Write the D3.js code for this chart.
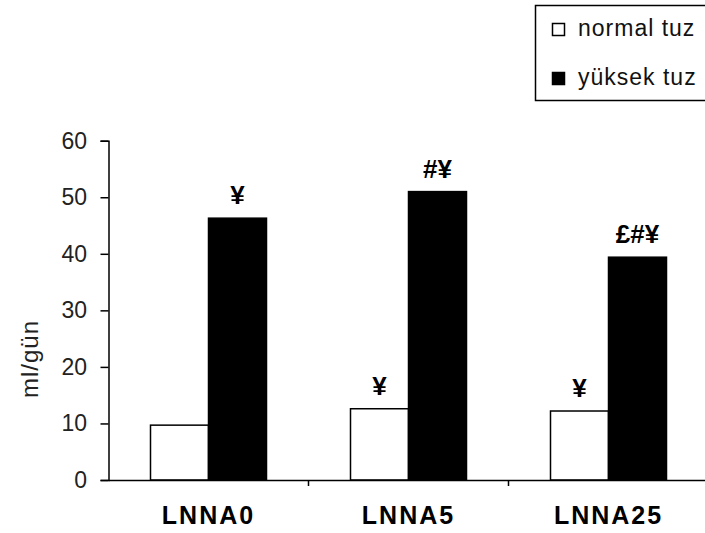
<!DOCTYPE html>
<html>
<head>
<meta charset="utf-8">
<script src="https://cdn.jsdelivr.net/npm/d3@7/dist/d3.min.js"></script>
<style>
  html, body { margin: 0; padding: 0; background: #fff; }
  svg { display: block; font-family: "Liberation Sans", Arial, sans-serif; }
</style>
</head>
<body>
<svg id="chart" width="705" height="533"></svg>
<script>
// Groups and series
const categories = ["LNNA0", "LNNA5", "LNNA25"];
const seriesNames = ["normal tuz", "yüksek tuz"];
const normalTuz = [9.7, 12.6, 12.2];
const yuksekTuz = [46.3, 51.0, 39.4];
// significance marks above each bar
const normalMarks = ["", "¥", "¥"];
const yuksekMarks = ["¥", "#¥", "£#¥"];
const yTicks = [0, 10, 20, 30, 40, 50, 60];
const yTitle = "ml/gün";

const svg = d3.select("#chart");

const x0 = d3.scaleBand().domain(categories).range([108.5, 708.5]).paddingInner(0).paddingOuter(0);
const x1 = d3.scaleBand().domain(seriesNames).range([42, 158]).padding(0);
const y = d3.scaleLinear().domain([0, 60]).range([480, 140.7]);

const rows = categories.map((c, i) => ({
  cat: c,
  bars: [
    { s: seriesNames[0], v: normalTuz[i], mark: normalMarks[i] },
    { s: seriesNames[1], v: yuksekTuz[i], mark: yuksekMarks[i] }
  ]
}));

// Bars
const groups = svg.append("g").selectAll("g").data(rows).join("g")
  .attr("transform", d => `translate(${x0(d.cat)},0)`);

groups.selectAll("rect").data(d => d.bars).join("rect")
  .attr("x", d => x1(d.s))
  .attr("y", d => y(d.v))
  .attr("width", x1.bandwidth())
  .attr("height", d => y(0) - y(d.v))
  .attr("fill", d => d.s === seriesNames[0] ? "#fff" : "#000")
  .attr("stroke", "#000")
  .attr("stroke-width", 1.5);

groups.selectAll("text").data(d => d.bars).join("text")
  .attr("x", d => x1(d.s) + x1.bandwidth() / 2)
  .attr("y", d => y(d.v) - 14)
  .attr("text-anchor", "middle")
  .attr("font-size", 26)
  .attr("font-weight", "bold")
  .attr("fill", "#000")
  .text(d => d.mark);

// Y axis
const yAxis = svg.append("g")
  .attr("transform", "translate(108.5,0)")
  .call(d3.axisLeft(y).tickValues(yTicks).tickSize(8).tickPadding(13.5).tickFormat(d3.format("d")));
yAxis.select(".domain").attr("stroke", "#000").attr("stroke-width", 1.5);
yAxis.selectAll(".tick line").attr("stroke", "#000").attr("stroke-width", 1.5);
yAxis.selectAll(".tick text").attr("font-size", 23).attr("font-family", "Liberation Sans, Arial, sans-serif").attr("fill", "#222");

// X axis: labels centred under each group, ticks on group boundaries
const xAxis = svg.append("g")
  .attr("transform", "translate(0,480)")
  .call(d3.axisBottom(x0).tickSize(0).tickSizeOuter(0));
xAxis.select(".domain").attr("stroke", "#000").attr("stroke-width", 1.5);
xAxis.selectAll(".tick text")
  .attr("y", 44).attr("dy", 0)
  .attr("font-size", 25).attr("font-weight", "bold")
  .attr("letter-spacing", 2)
  .attr("font-family", "Liberation Sans, Arial, sans-serif")
  .attr("fill", "#000");
xAxis.selectAll(".boundary").data(categories.slice(1)).join("line")
  .attr("class", "boundary")
  .attr("x1", d => x0(d)).attr("x2", d => x0(d))
  .attr("y1", 0).attr("y2", 6)
  .attr("stroke", "#000").attr("stroke-width", 1.5);

// Y title
svg.append("text")
  .attr("transform", "translate(38,359) rotate(-90)")
  .attr("text-anchor", "middle")
  .attr("font-size", 24)
  .attr("letter-spacing", 1)
  .attr("fill", "#222")
  .text(yTitle);

// Legend
const legend = svg.append("g");
legend.append("rect")
  .attr("x", 535.5).attr("y", 5.5).attr("width", 200).attr("height", 95)
  .attr("fill", "#fff").attr("stroke", "#000").attr("stroke-width", 1.5);
const legendItems = legend.selectAll("g.item").data(seriesNames).join("g")
  .attr("class", "item")
  .attr("transform", (d, i) => `translate(552,${23 + i * 49})`);
legendItems.append("rect")
  .attr("x", 0.5).attr("y", 0.5).attr("width", 12).attr("height", 12)
  .attr("fill", (d, i) => i === 0 ? "#fff" : "#000")
  .attr("stroke", "#000").attr("stroke-width", 1.5);
legendItems.append("text")
  .attr("x", 26).attr("y", 13)
  .attr("font-size", 23)
  .attr("letter-spacing", 1)
  .attr("fill", "#111")
  .text(d => d);
</script>
</body>
</html>
